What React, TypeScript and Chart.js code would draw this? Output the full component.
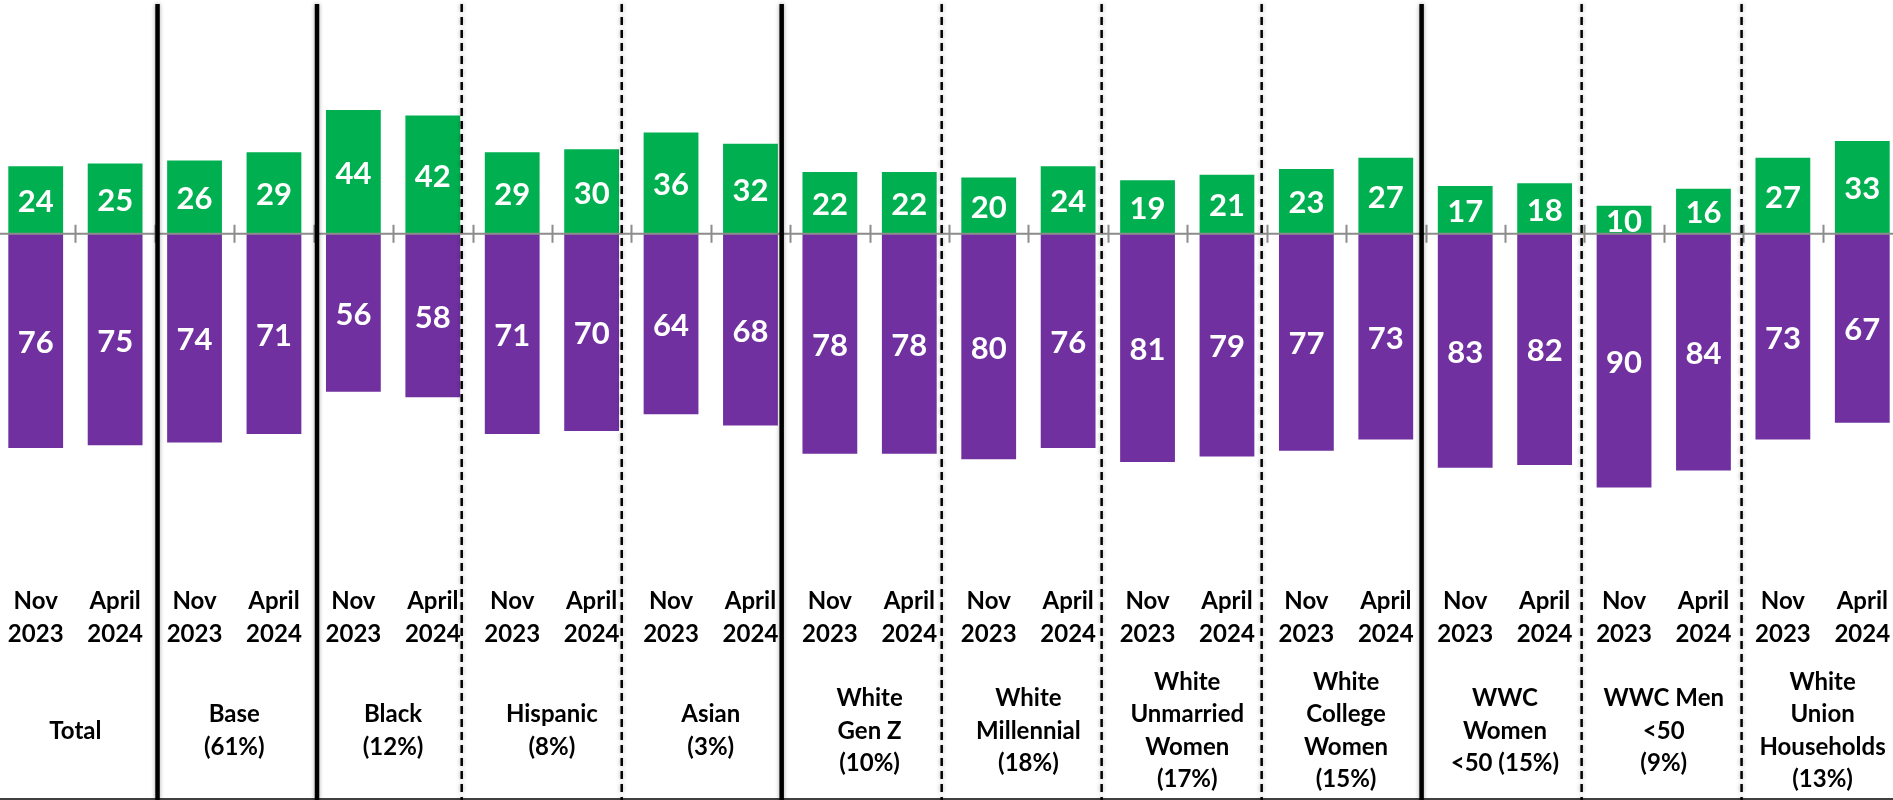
import React, { useEffect, useRef } from "react";
import { Chart, registerables } from "chart.js";

Chart.register(...registerables);

// ---- data ----
const periodLabels: string[][] = [["Nov", "2023"], ["April", "2024"]];

const groupLabels: string[][] = [
  ["Total"],
  ["Base", "(61%)"],
  ["Black", "(12%)"],
  ["Hispanic", "(8%)"],
  ["Asian", "(3%)"],
  ["White", "Gen Z", "(10%)"],
  ["White", "Millennial", "(18%)"],
  ["White", "Unmarried", "Women", "(17%)"],
  ["White", "College", "Women", "(15%)"],
  ["WWC", "Women", "<50 (15%)"],
  ["WWC Men", "<50", "(9%)"],
  ["White", "Union", "Households", "(13%)"],
];

// order: per group, Nov 2023 then April 2024
const greenValues: number[] = [
  24, 25, 26, 29, 44, 42, 29, 30, 36, 32, 22, 22,
  20, 24, 19, 21, 23, 27, 17, 18, 10, 16, 27, 33,
];
const purpleValues: number[] = [
  76, 75, 74, 71, 56, 58, 71, 70, 64, 68, 78, 78,
  80, 76, 81, 79, 77, 73, 83, 82, 90, 84, 73, 67,
];

// divider lines between groups (category-index units) and their style
const dividerAt: number[] = [1.534, 3.542, 5.364, 7.379, 9.393, 11.408, 13.422, 15.437, 17.451, 19.466, 21.48];
const dividerSolid: boolean[] = [true, true, false, false, true, false, false, false, true, false, false];

const GREEN = "#00B050";
const PURPLE = "#7030A0";
const FONT = "Lato, 'Open Sans', sans-serif";

const categories: string[][] = groupLabels.flatMap(() => periodLabels);

const overlayPlugin = {
  id: "overlay",
  afterDatasetsDraw(chart: any) {
    const { ctx, scales } = chart;
    const xs = scales.x;
    const ys = scales.y;
    const y0 = ys.getPixelForValue(0);
    const n = categories.length;

    ctx.save();
    // zero axis line + category ticks
    ctx.strokeStyle = "#8c8c8c";
    ctx.lineWidth = 2;
    ctx.beginPath();
    ctx.moveTo(0, y0);
    ctx.lineTo(chart.width, y0);
    for (let i = 1; i < n; i++) {
      const px = Math.round(xs.getPixelForValue(i - 0.5)) + 0.5;
      ctx.moveTo(px, y0 - 9);
      ctx.lineTo(px, y0 + 9);
    }
    ctx.stroke();

    // value labels
    ctx.font = `bold 31px ${FONT}`;
    ctx.textAlign = "center";
    ctx.textBaseline = "middle";
    ctx.fillStyle = "#ffffff";
    chart.data.datasets.forEach((ds: any, di: number) => {
      const meta = chart.getDatasetMeta(di);
      meta.data.forEach((bar: any, i: number) => {
        const p = bar.getProps(["x", "y", "base", "width"], true);
        const top = Math.min(p.y, p.base);
        const bottom = Math.max(p.y, p.base);
        ctx.save();
        ctx.beginPath();
        ctx.rect(p.x - p.width / 2, top, p.width, bottom - top);
        ctx.clip();
        ctx.fillText(String(Math.abs(ds.data[i])), p.x, (top + bottom) / 2 + 2);
        ctx.restore();
      });
    });
    ctx.restore();
  },
  afterDraw(chart: any) {
    const { ctx, scales, chartArea } = chart;
    const xs = scales.x;
    ctx.save();
    ctx.font = `bold 24px ${FONT}`;
    ctx.textAlign = "center";
    ctx.textBaseline = "middle";
    ctx.fillStyle = "#000000";
    const lh = 33;

    // category (period) labels under each bar
    const tickTop = chartArea.bottom + 29;
    categories.forEach((lines, i) => {
      const cx = xs.getPixelForValue(i);
      lines.forEach((t, li) => ctx.fillText(t, cx, tickTop + li * lh));
    });

    // group labels
    const cy = 731;
    groupLabels.forEach((lines, g) => {
      const cx = (xs.getPixelForValue(2 * g) + xs.getPixelForValue(2 * g + 1)) / 2;
      const startY = cy - ((lines.length - 1) * 32.5) / 2;
      lines.forEach((t, li) => ctx.fillText(t, cx, startY + li * 32.5));
    });

    // bottom border
    ctx.strokeStyle = "#404040";
    ctx.lineWidth = 2;
    ctx.beginPath();
    ctx.moveTo(0, chart.height - 1);
    ctx.lineTo(chart.width, chart.height - 1);
    ctx.stroke();

    // dividers
    ctx.shadowColor = "rgba(0,0,0,0.35)";
    ctx.shadowBlur = 4;
    dividerAt.forEach((v, k) => {
      const px = xs.getPixelForValue(v);
      ctx.beginPath();
      ctx.strokeStyle = "#000000";
      if (dividerSolid[k]) {
        ctx.setLineDash([]);
        ctx.lineWidth = 4.5;
      } else {
        ctx.setLineDash([8, 5]);
        ctx.lineWidth = 2.5;
      }
      ctx.moveTo(px, 4);
      ctx.lineTo(px, chart.height);
      ctx.stroke();
    });
    ctx.restore();
  },
};

export default function App() {
  const canvasRef = useRef<HTMLCanvasElement | null>(null);

  useEffect(() => {
    if (!canvasRef.current) return;
    const chart = new Chart(canvasRef.current, {
      type: "bar",
      data: {
        labels: categories,
        datasets: [
          {
            label: "green",
            data: greenValues,
            backgroundColor: GREEN,
            borderWidth: 0,
            barPercentage: 0.69,
            categoryPercentage: 1,
          },
          {
            label: "purple",
            data: purpleValues.map((v) => -v),
            backgroundColor: PURPLE,
            borderWidth: 0,
            barPercentage: 0.69,
            categoryPercentage: 1,
          },
        ],
      },
      options: {
        responsive: false,
        animation: false,
        layout: { padding: { top: 0, bottom: 228, left: 0, right: 0 } },
        plugins: {
          legend: { display: false },
          tooltip: { enabled: false },
        },
        scales: {
          x: {
            stacked: true,
            offset: true,
            display: false,
          },
          y: {
            stacked: true,
            display: false,
            min: -120,
            max: 83,
          },
        },
      },
      plugins: [overlayPlugin],
    } as any);
    return () => chart.destroy();
  }, []);

  return (
    <div
      style={{
        position: "fixed",
        left: 0,
        top: 0,
        width: 1893,
        height: 800,
        overflow: "hidden",
        background: "#ffffff",
      }}
    >
      <canvas
        ref={canvasRef}
        width={1906}
        height={800}
        style={{ display: "block", marginLeft: -4, width: 1906, height: 800 }}
      />
    </div>
  );
}
